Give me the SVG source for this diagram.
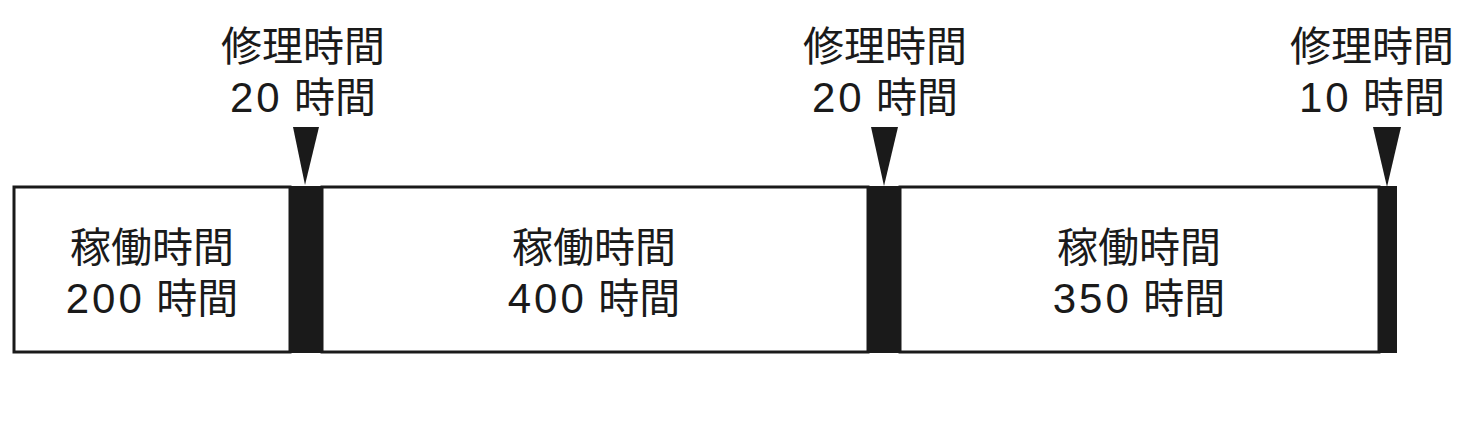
<svg xmlns="http://www.w3.org/2000/svg" width="1469" height="432" viewBox="0 0 1469 432">
<style>
.t{font-family:"Liberation Sans","Noto Sans CJK JP",sans-serif;font-size:41px;fill:#1a1a1a;text-anchor:middle}
.d{font-size:42px;letter-spacing:3px}
.box{fill:#fff;stroke:#1a1a1a;stroke-width:3}
.bar{fill:#1a1a1a}
.tri{fill:#1a1a1a}
</style>
<rect width="1469" height="432" fill="#fff"/>
<g id="op1"><rect class="box" x="14" y="187" width="276" height="165"/><text class="t" x="152" y="262">稼働時間</text><text class="t" x="152" y="313"><tspan class="d">200</tspan> 時間</text></g>
<g id="op2"><rect class="box" x="322" y="187" width="546" height="165"/><text class="t" x="594" y="262">稼働時間</text><text class="t" x="594" y="313"><tspan class="d">400</tspan> 時間</text></g>
<g id="op3"><rect class="box" x="900" y="187" width="479" height="165"/><text class="t" x="1139" y="262">稼働時間</text><text class="t" x="1139" y="313"><tspan class="d">350</tspan> 時間</text></g>
<g id="rep1"><rect class="bar" x="289" y="186" width="33" height="167"/></g>
<g id="rep2"><rect class="bar" x="867" y="186" width="33" height="167"/></g>
<g id="rep3"><rect class="bar" x="1378" y="186" width="19" height="167"/></g>
<g id="label1"><text class="t" x="303" y="61">修理時間</text><text class="t" x="303" y="112"><tspan class="d">20</tspan> 時間</text></g>
<g id="label2"><text class="t" x="885" y="61">修理時間</text><text class="t" x="885" y="112"><tspan class="d">20</tspan> 時間</text></g>
<g id="label3"><text class="t" x="1372" y="61">修理時間</text><text class="t" x="1372" y="112"><tspan class="d">10</tspan> 時間</text></g>
<g id="connectors">
<polygon class="tri" points="293,127 319,127 305,185"/>
<polygon class="tri" points="871,127 898,127 884,186"/>
<polygon class="tri" points="1373,127 1401,127 1387,187"/>
</g>
</svg>
